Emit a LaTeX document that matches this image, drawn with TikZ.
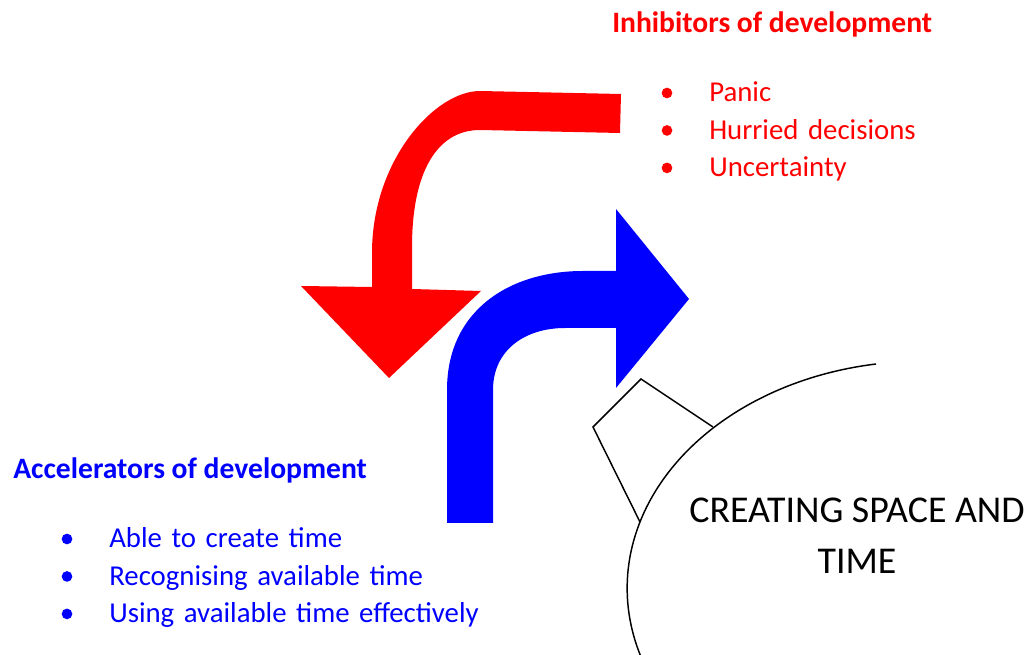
\documentclass[tikz,border=0pt]{standalone}
\usepackage{fontspec}
\setmainfont{Carlito}
\usepackage{tikz}
\definecolor{inhib}{RGB}{255,0,0}
\definecolor{accel}{RGB}{0,0,255}

\begin{document}
\begin{tikzpicture}[x=0.75pt, y=-0.75pt, node distance=28.1pt]
% Define styles
\tikzstyle{listhead} = [font=\bfseries\fontsize{22.2}{26}\selectfont, anchor=base west, inner sep=0pt]
\tikzstyle{listitem} = [font=\fontsize{21.6}{26}\selectfont, text width=13cm, align=left, inner sep=0pt, text height=14pt, text depth=5pt]
\tikzstyle{outline} = [draw=black, line width=1.1pt, line join=miter]

\useasboundingbox (0,0) rectangle (1029,655);

% Arrows
\fill[inhib] (621,94) -- (480,91) .. controls (435,91) and (372,160) .. (372,253)
  -- (372,287) -- (301,286) -- (389,378) -- (481,291) -- (412,289) -- (412,247)
  .. controls (412,172) and (437,130) .. (480,130) -- (620,133) -- cycle;
\fill[accel] (447,523) -- (447,390) .. controls (447,310) and (510,271) .. (583,271)
  -- (616,271) -- (616,209) -- (689,299) -- (616,388) -- (616,328) -- (565,328)
  .. controls (525,328) and (493,350) .. (493,390) -- (493,523) -- cycle;

% Circle and its tab
\begin{scope}
\clip (0,0) rectangle (1029,655);
\draw[outline] (876,364) arc[start angle=99, end angle=205, x radius=221.25pt, y radius=170.25pt];
\end{scope}
\draw[outline] (713,427) -- (641,379) -- (593,427) -- (640,522);
\node[font=\fontsize{28.4}{38.25}\selectfont, align=center] (core) at (857,536) {CREATING SPACE AND\\TIME};

% Inhibitors
\node[listhead, text=inhib] (inhibitors) at (612,33) {Inhibitors of development};
\node[listitem, text=inhib, anchor=base west] (panic) at (709,102) {Panic};
\node[listitem, text=inhib, below of=panic] (hurried) {Hurried decisions};
\node[listitem, text=inhib, below of=hurried] (uncertainty) {Uncertainty};

% Accelerators
\node[listhead, text=accel] (accelerators) at (13,479) {Accelerators of development};
\node[listitem, text=accel, anchor=base west] (able) at (109,548) {Able to create time};
\node[listitem, text=accel, below of=able] (recognising) {Recognising available time};
\node[listitem, text=accel, below of=recognising] (using) {Using available time effectively};

% Bullets
\foreach \n in {panic,hurried,uncertainty}
  \fill[inhib] ([xshift=-31.5pt,yshift=6.75pt]\n.base west) circle (4pt);
\foreach \n in {able,recognising,using}
  \fill[accel] ([xshift=-31.5pt,yshift=6.75pt]\n.base west) circle (4pt);

\end{tikzpicture}
\end{document}
